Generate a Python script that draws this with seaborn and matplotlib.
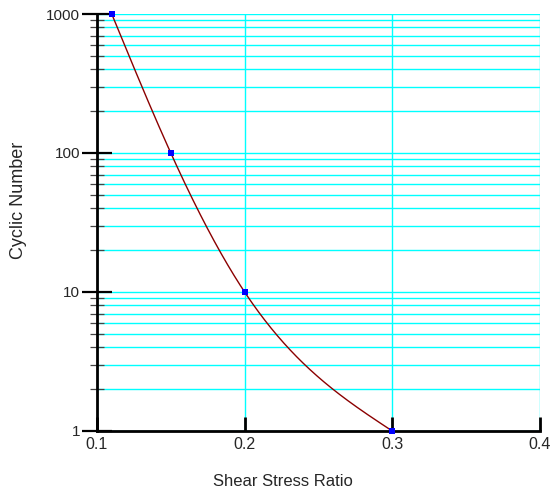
import numpy as np
import pandas as pd
import matplotlib
matplotlib.use("Agg")
import matplotlib.pyplot as plt
import seaborn as sns
from matplotlib.ticker import FixedLocator, NullFormatter

# Cyclic strength curve data
shear_stress_ratio = [0.11, 0.15, 0.20, 0.30]
cyclic_number = [1000, 100, 10, 1]
x_ticks = [0.1, 0.2, 0.3, 0.4]
x_tick_labels = ["0.1", "0.2", "0.3", "0.4"]
y_ticks = [1, 10, 100, 1000]
y_tick_labels = ["1", "10", "100", "1000"]


def natural_spline(x, y, xs):
    """Natural cubic spline through (x, y), evaluated at xs."""
    x = np.asarray(x, float)
    y = np.asarray(y, float)
    n = len(x)
    h = np.diff(x)
    d = np.diff(y) / h
    A = np.zeros((n, n))
    b = np.zeros(n)
    A[0, 0] = A[-1, -1] = 1.0
    for i in range(1, n - 1):
        A[i, i - 1] = h[i - 1]
        A[i, i] = 2 * (h[i - 1] + h[i])
        A[i, i + 1] = h[i]
        b[i] = 6 * (d[i] - d[i - 1])
    M = np.linalg.solve(A, b)
    out = np.empty_like(xs)
    for k, xv in enumerate(xs):
        i = min(max(np.searchsorted(x, xv) - 1, 0), n - 2)
        t0 = x[i + 1] - xv
        t1 = xv - x[i]
        out[k] = (M[i] * t0 ** 3 + M[i + 1] * t1 ** 3) / (6 * h[i]) \
            + (y[i] / h[i] - M[i] * h[i] / 6) * t0 \
            + (y[i + 1] / h[i] - M[i + 1] * h[i] / 6) * t1
    return out


sns.set_style("white")
plt.rcParams["font.family"] = ["Liberation Sans", "DejaVu Sans"]

fig = plt.figure(figsize=(5.52, 4.93), dpi=100)
ax = fig.add_axes([0.1757, 0.1258, 0.8023, 0.8458])
ax.set_axisbelow(False)

# smooth curve through the points in (x, log10 N) space
xs = np.linspace(min(shear_stress_ratio), max(shear_stress_ratio), 400)
ys = 10 ** natural_spline(shear_stress_ratio, np.log10(cyclic_number), xs)
curve = pd.DataFrame({"x": xs, "y": ys})
pts = pd.DataFrame({"x": shear_stress_ratio, "y": cyclic_number})

ax.set_yscale("log")
ax.set_xlim(0.1, 0.4)
ax.set_ylim(1, 1000)

# grid
minor_y = [m * 10 ** e for e in range(0, 3) for m in range(2, 10)]
for yv in minor_y + y_ticks:
    ax.axhline(yv, color="#00FFFF", lw=1.0, zorder=0.2)
for xv in x_ticks:
    ax.axvline(xv, color="#00FFFF", lw=1.0, zorder=0.2)

sns.lineplot(data=curve, x="x", y="y", ax=ax, color="#8B0000", lw=1.0,
             sort=False, zorder=3)
sns.scatterplot(data=pts, x="x", y="y", ax=ax, color="#0000FF", marker="s",
                s=14, linewidth=0, zorder=6, clip_on=False)

ax.set_xticks(x_ticks)
ax.set_xticklabels(x_tick_labels)
ax.yaxis.set_major_locator(FixedLocator(y_ticks))
ax.set_yticklabels(y_tick_labels)
ax.yaxis.set_minor_locator(FixedLocator(minor_y))
ax.yaxis.set_minor_formatter(NullFormatter())

for s in ["top", "right"]:
    ax.spines[s].set_visible(False)
for s in ["left", "bottom"]:
    ax.spines[s].set_color("black")
    ax.spines[s].set_linewidth(2)
    ax.spines[s].set_zorder(5)

ax.tick_params(axis="x", which="major", bottom=True, direction="in", length=10,
               width=2, color="black", labelsize=11.5, pad=4)
ax.tick_params(axis="y", which="major", left=True, direction="inout", length=22,
               width=1.6, color="black", labelsize=11, pad=1)
ax.tick_params(axis="y", which="minor", left=True, direction="inout", length=10,
               width=0.9, color="#444444")
ax.tick_params(axis="x", which="minor", bottom=False)

ax.set_xlabel("Shear Stress Ratio", fontsize=12)
ax.set_ylabel("Cyclic Number", fontsize=13)
ax.xaxis.set_label_coords(0.42, -0.103)
ax.yaxis.set_label_coords(-0.158, 0.554)
ax.set_facecolor("white")

fig.savefig("out.png", dpi=100)
